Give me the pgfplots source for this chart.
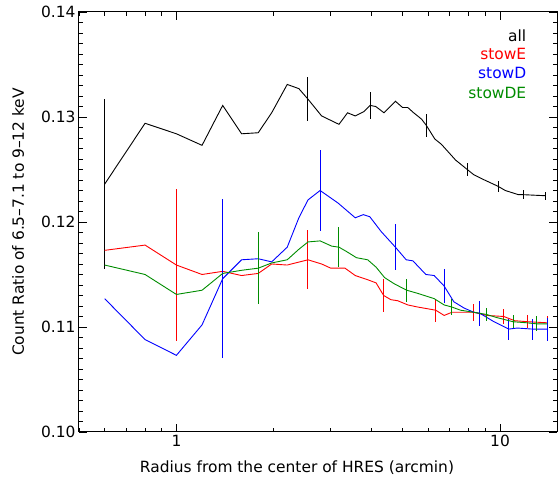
\documentclass[border=0pt]{standalone}
\usepackage{pgfplots}
\pgfplotsset{compat=1.18}
\usepackage{pgfplotstable}
\usepackage{fontspec}
\setmainfont{DejaVu Sans}
\definecolor{idlgreen}{rgb}{0,0.55,0}
\definecolor{idlblue}{rgb}{0,0,1}
\definecolor{idlred}{rgb}{1,0,0}

\pgfplotstableread{
x y e
0.60 0.1236 0.0081
0.80 0.1294 0
1.00 0.1284 0
1.20 0.1273 0
1.39 0.1311 0
1.59 0.1284 0
1.79 0.1285 0
1.97 0.1304 0
2.20 0.1331 0
2.39 0.1327 0
2.55 0.1317 0.0021
2.81 0.1301 0
3.18 0.1293 0
3.38 0.1304 0
3.57 0.1301 0
3.79 0.1305 0
3.97 0.1311 0.0013
4.13 0.1310 0
4.38 0.1304 0
4.75 0.1315 0
5.00 0.1309 0
5.19 0.1309 0
5.41 0.1304 0
5.72 0.1298 0
5.92 0.1292 0.0011
6.29 0.1279 0
6.59 0.1274 0
7.29 0.1259 0
7.92 0.1250 0.0006
8.30 0.1245 0
8.81 0.1241 0
9.86 0.1234 0.0005
10.38 0.1230 0
11.40 0.1226 0
11.82 0.1226 0.0004
13.84 0.1225 0.0004
}\allser

\pgfplotstableread{
x y e
0.60 0.1173 0
0.80 0.1178 0
1.00 0.1159 0.0072
1.20 0.1150 0
1.39 0.1153 0
1.59 0.1149 0
1.79 0.1151 0
1.97 0.1160 0
2.20 0.1159 0
2.55 0.1164 0.0028
2.81 0.1160 0
3.00 0.1156 0
3.32 0.1156 0
3.57 0.1149 0
3.90 0.1145 0
4.14 0.1142 0
4.37 0.1130 0.0016
4.60 0.1126 0
4.83 0.1125 0
5.19 0.1121 0
5.57 0.1119 0
6.33 0.1116 0.0011
6.72 0.1111 0
7.10 0.1114 0
7.55 0.1114 0
8.30 0.1114 0.0008
9.10 0.1111 0
10.27 0.1110 0.0007
11.10 0.1106 0
12.20 0.1105 0.0006
14.00 0.1104 0.0006
}\stowE

\pgfplotstableread{
x y e
0.60 0.1127 0
0.80 0.1088 0
1.00 0.1073 0
1.20 0.1102 0
1.39 0.1146 0.0076
1.59 0.1164 0
1.79 0.1165 0
1.97 0.1162 0
2.20 0.1176 0
2.39 0.1204 0
2.55 0.1221 0
2.78 0.1230 0.0039
3.16 0.1218 0
3.57 0.1204 0
3.78 0.1207 0
3.96 0.1205 0
4.29 0.1191 0
4.75 0.1176 0.0022
5.13 0.1164 0
5.38 0.1163 0
5.90 0.1150 0
6.26 0.1149 0
6.72 0.1139 0.0016
7.20 0.1124 0
7.75 0.1118 0
8.30 0.1114 0
8.67 0.1113 0.0012
9.58 0.1105 0
10.65 0.1098 0.0010
11.30 0.1099 0
12.60 0.1098 0.0010
14.00 0.1098 0.0011
}\stowD

\pgfplotstableread{
x y e
0.60 0.1159 0
0.80 0.1150 0
1.00 0.1131 0
1.20 0.1135 0
1.39 0.1151 0
1.59 0.1154 0
1.79 0.1156 0.0034
1.97 0.1161 0
2.20 0.1164 0
2.39 0.1174 0
2.55 0.1181 0
2.78 0.1182 0
3.02 0.1177 0
3.18 0.1176 0.0019
3.35 0.1172 0
3.60 0.1166 0
3.90 0.1164 0
4.14 0.1157 0
4.40 0.1147 0
4.72 0.1141 0
5.15 0.1135 0.0011
5.57 0.1132 0
6.26 0.1127 0
6.72 0.1121 0
7.10 0.1119 0.0008
7.55 0.1116 0
8.30 0.1114 0
9.06 0.1112 0.0006
9.77 0.1109 0
10.97 0.1105 0.0006
12.10 0.1104 0
12.97 0.1103 0.0007
14.00 0.1103 0
}\stowDE

\begin{document}
\begin{tikzpicture}
\begin{axis}[
  scale only axis, width=478bp, height=420bp,
  xmode=log, xmin=0.5, xmax=15, ymin=0.10, ymax=0.14,
  xtick={1,10}, xticklabels={1,10},
  minor xtick={0.5,0.6,0.7,0.8,0.9,2,3,4,5,6,7,8,9},
  ytick={0.10,0.11,0.12,0.13,0.14},
  minor y tick num=9,
  scaled y ticks=false,
  yticklabel style={/pgf/number format/.cd, fixed, fixed zerofill, precision=2, assume math mode=true},
  major tick length=8bp, minor tick length=4bp,
  every tick/.style={black, line width=0.8bp},
  axis line style={line width=1bp},
  font=\fontsize{15.5}{18}\selectfont,
  xlabel={Radius from the center of HRES (arcmin)},
  ylabel={Count Ratio of 6.5--7.1 to 9--12 keV},
  every axis x label/.style={at={(axis description cs:0.456,-0.0976)}, anchor=base},
  every axis y label/.style={at={(axis description cs:-0.1276,0.5)}, rotate=90, anchor=center},
  clip=false,
]
\addplot[black, line width=0.9bp, error bars/.cd, y dir=both, y explicit, error mark=none, error bar style={line width=1bp}] table[x=x, y=y, y error=e] {\allser};
\addplot[idlred, line width=0.9bp, error bars/.cd, y dir=both, y explicit, error mark=none, error bar style={line width=1bp}] table[x=x, y=y, y error=e] {\stowE};
\addplot[idlblue, line width=0.9bp, error bars/.cd, y dir=both, y explicit, error mark=none, error bar style={line width=1bp}] table[x=x, y=y, y error=e] {\stowD};
\addplot[idlgreen, line width=0.9bp, error bars/.cd, y dir=both, y explicit, error mark=none, error bar style={line width=1bp}] table[x=x, y=y, y error=e] {\stowDE};
\node[anchor=base east, text=black] at (axis description cs:0.943,0.9286) {all};
\node[anchor=base east, text=idlred] at (axis description cs:0.943,0.8857) {stowE};
\node[anchor=base east, text=idlblue] at (axis description cs:0.943,0.8405) {stowD};
\node[anchor=base east, text=idlgreen] at (axis description cs:0.943,0.7952) {stowDE};
\end{axis}
\path ([shift={(-79bp,-49bp)}]current axis.south west) rectangle ([shift={(1bp,12bp)}]current axis.north east);
\end{tikzpicture}
\end{document}
